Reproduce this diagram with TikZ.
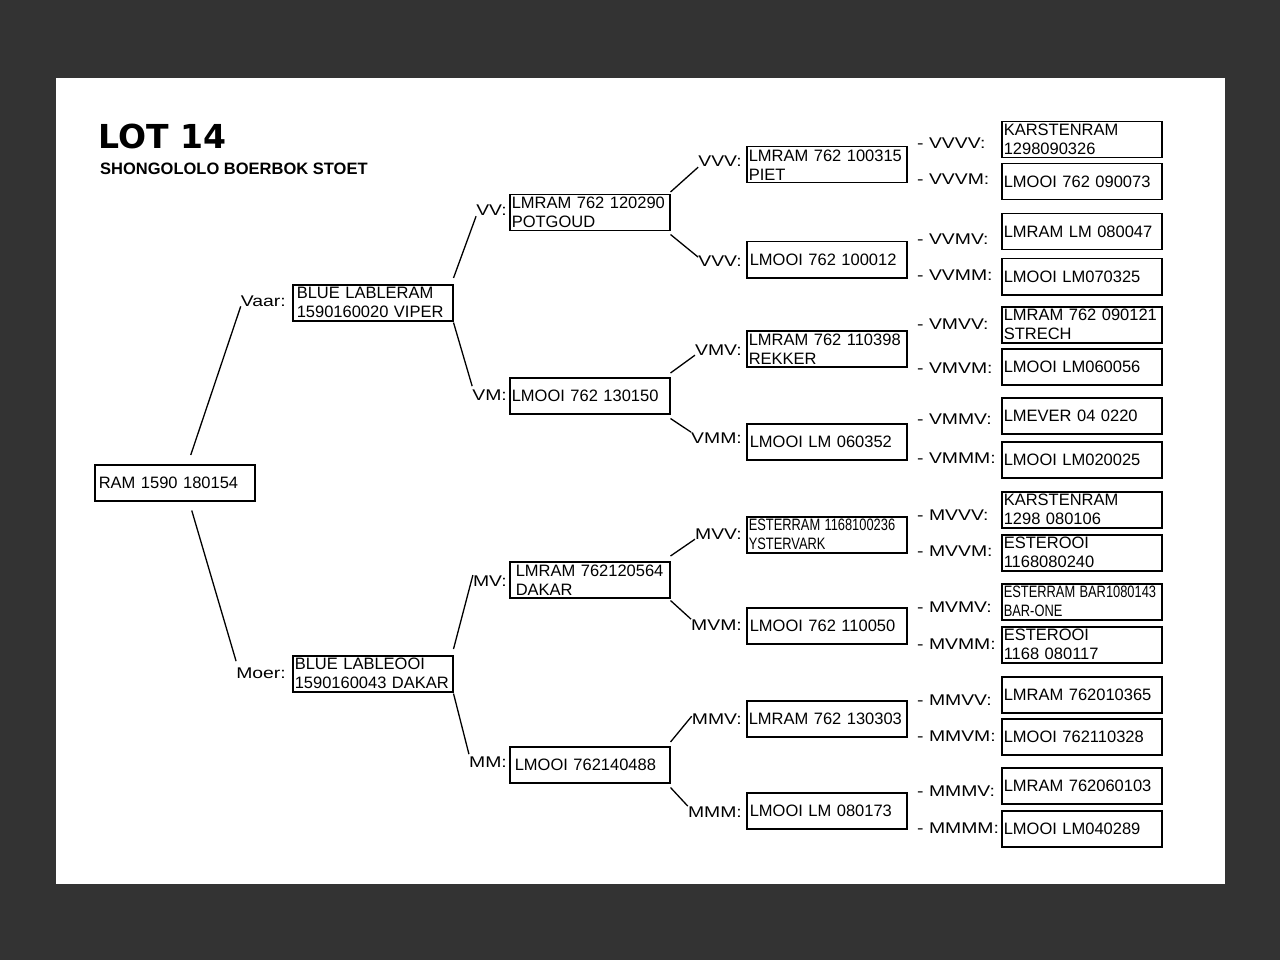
\documentclass[tikz,border=0pt]{standalone}
\usepackage{fontspec}
\usepackage{graphicx}
\setmainfont{Liberation Sans}
\newfontfamily\heavyfont{DejaVu Sans}
\newcommand{\wide}[1]{\scalebox{1.25}[1]{#1}}
\newcommand{\narrow}[1]{\scalebox{0.78}[1]{#1}}
\definecolor{bggray}{RGB}{51,51,51}

\begin{document}
\begin{tikzpicture}[x=1pt,y=-1pt,
  pedbox/.style={draw,line width=1.5pt,anchor=north west,text width=156pt,inner xsep=2pt,inner ysep=1pt,minimum height=36pt,align=left,font=\fontsize{16.5}{19}\selectfont},
  tag/.style={inner sep=0pt,font=\fontsize{15.5}{18}\selectfont},
  link/.style={line width=1.3pt}]
\useasboundingbox (0,0) rectangle (1280,960);
\fill[bggray] (0,0) rectangle (1280,960);
\fill[white] (56,78) rectangle (1225,884);

% heading
\node[anchor=base west,inner sep=0pt,font=\heavyfont\bfseries\fontsize{33}{36}\selectfont] (lot) at (98,149) {LOT 14};
\node[anchor=base west,inner sep=0pt,font=\bfseries\fontsize{16.5}{19}\selectfont] (stud) at (100,175) {SHONGOLOLO BOERBOK STOET};

% animal, parents, grandparents
\node[pedbox,inner xsep=4pt,text width=152pt] (root) at (94,464) {RAM 1590 180154};
\node[pedbox,inner xsep=4pt,text width=152pt] (v) at (292,284) {BLUE LABLERAM\\1590160020 VIPER};
\node[pedbox] (m) at (292,655) {BLUE LABLEOOI\\1590160043 DAKAR};
\node[tag,anchor=base east] (lv) at (286,306) {\wide{Vaar:}};
\node[tag,anchor=base east] (lm) at (286,678) {\wide{Moer:}};
\draw[link] ([xshift=16pt,yshift=9pt]root.north) -- (lv.south west);
\draw[link] ([xshift=17pt,yshift=-9pt]root.south) -- ([yshift=6pt]lm.north west);

\node[pedbox] (vv) at (509,194) {LMRAM 762 120290\\POTGOUD};
\node[pedbox] (vm) at (509,377) {LMOOI 762 130150};
\node[pedbox,inner xsep=6pt,text width=148pt] (mv) at (509,561) {LMRAM 762120564\\DAKAR};
\node[pedbox,inner xsep=5pt,text width=150pt] (mm) at (509,746) {LMOOI 762140488};
\node[tag,anchor=base east] (lvv) at (507,216) {\wide{VV:}};
\node[tag,anchor=base east] (lvm) at (507,400) {\wide{VM:}};
\node[tag,anchor=base east] (lmv) at (507,586) {\wide{MV:}};
\node[tag,anchor=base east] (lmm) at (507,767) {\wide{MM:}};
\draw[link] ([yshift=6pt]v.north east) -- (lvv.south west);
\draw[link] ([yshift=-1pt]v.south east) -- ([yshift=3pt]lvm.north west);
\draw[link] ([yshift=6pt]m.north east) -- (lmv.north west);
\draw[link] ([yshift=-1pt]m.south east) -- ([yshift=2pt]lmm.north west);

% great-grandparents
\node[pedbox] (vvv) at (746,146) {LMRAM 762 100315\\PIET};
\node[pedbox,inner xsep=3pt,text width=154pt] (vvm) at (746,241) {LMOOI 762 100012};
\node[pedbox] (vmv) at (746,330) {LMRAM 762 110398\\REKKER};
\node[pedbox,inner xsep=3pt,text width=154pt] (vmm) at (746,423) {LMOOI LM 060352};
\node[pedbox] (mvv) at (746,516) {\narrow{ESTERRAM 1168100236}\\\narrow{YSTERVARK}};
\node[pedbox,inner xsep=3pt,text width=154pt] (mvm) at (746,607) {LMOOI 762 110050};
\node[pedbox] (mmv) at (746,700) {LMRAM 762 130303};
\node[pedbox,inner xsep=3pt,text width=154pt] (mmm) at (746,792) {LMOOI LM 080173};
\node[tag,anchor=base east] (lvvv) at (742,167) {\wide{VVV:}};
\node[tag,anchor=base east] (lvvm) at (742,266) {\wide{VVV:}};
\node[tag,anchor=base east] (lvmv) at (742,355) {\wide{VMV:}};
\node[tag,anchor=base east] (lvmm) at (742,443) {\wide{VMM:}};
\node[tag,anchor=base east] (lmvv) at (742,539) {\wide{MVV:}};
\node[tag,anchor=base east] (lmvm) at (742,630) {\wide{MVM:}};
\node[tag,anchor=base east] (lmmv) at (742,724) {\wide{MMV:}};
\node[tag,anchor=base east] (lmmm) at (742,817) {\wide{MMM:}};
\draw[link] ([yshift=2pt]vv.north east) -- (lvvv.south west);
\draw[link] ([yshift=-3pt]vv.south east) -- ([yshift=-2pt]lvvm.north west);
\draw[link] ([yshift=4pt]vm.north east) -- (lvmv.south west);
\draw[link] ([yshift=-4pt]vm.south east) -- (lvmm.north west);
\draw[link] ([yshift=5pt]mv.north east) -- (lmvv.south west);
\draw[link] ([yshift=-2pt]mv.south east) -- (lmvm.north west);
\draw[link] ([yshift=4pt]mm.north east) -- ([yshift=8pt]lmmv.south west);
\draw[link] ([yshift=-4pt]mm.south east) -- (lmmm.north west);

% great-great-grandparents
\foreach \nm/\yy/\lbl/\ly/\txt in {
  vvvv/121/VVVV/149/{KARSTENRAM\\1298090326},
  vvvm/163/VVVM/185/{LMOOI 762 090073},
  vvmv/213/VVMV/245/{LMRAM LM 080047},
  vvmm/258/VVMM/280/{LMOOI LM070325},
  vmvv/306/VMVV/329/{LMRAM 762 090121\\STRECH},
  vmvm/348/VMVM/373/{LMOOI LM060056},
  vmmv/397/VMMV/424/{LMEVER 04 0220},
  vmmm/441/VMMM/463/{LMOOI LM020025},
  mvvv/491/MVVV/520/{KARSTENRAM\\1298 080106},
  mvvm/534/MVVM/556/{ESTEROOI\\1168080240},
  mvmv/583/MVMV/612/{\narrow{ESTERRAM BAR1080143}\\\narrow{BAR-ONE}},
  mvmm/626/MVMM/649/{ESTEROOI\\1168 080117},
  mmvv/676/MMVV/705/{LMRAM 762010365},
  mmvm/718/MMVM/741/{LMOOI 762110328},
  mmmv/767/MMMV/796/{LMRAM 762060103},
  mmmm/810/MMMM/833/{LMOOI LM040289}}{
  \node[pedbox] (\nm) at (1001,\yy) {\txt};
  \node[tag,anchor=base west] (l\nm) at (917,\ly) {\wide{- \lbl:}};
}
\end{tikzpicture}
\end{document}
